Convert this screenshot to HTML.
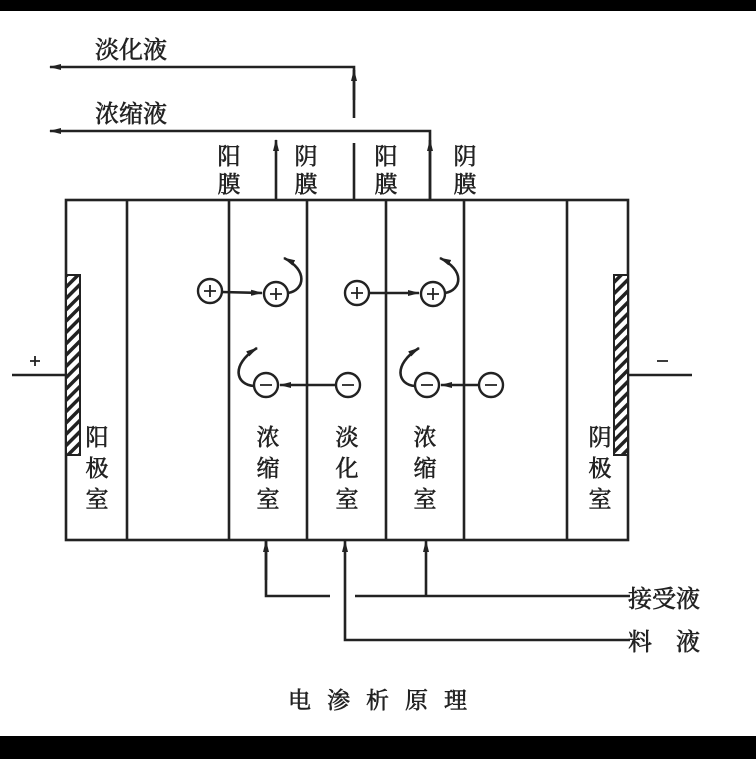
<!DOCTYPE html>
<html><head><meta charset="utf-8"><style>
body{margin:0;background:#fff;}
svg text{font-family:"Liberation Serif","Noto Serif CJK SC",serif;fill:#222;stroke:#222;stroke-width:0.6;}
</style></head><body>
<svg width="756" height="759" viewBox="0 0 756 759" xmlns="http://www.w3.org/2000/svg">
<defs>
<pattern id="h" width="8" height="8" patternUnits="userSpaceOnUse" patternTransform="rotate(-45)">
<rect width="8" height="8" fill="#fff"/><rect width="8" height="3.5" fill="#222"/></pattern>
<marker id="a" markerWidth="12" markerHeight="8" refX="11" refY="4" orient="auto" markerUnits="userSpaceOnUse"><path d="M0,1 L12,4 L0,7 Z" fill="#222"/></marker>
</defs>
<rect x="0" y="0" width="756" height="11" fill="#000"/>
<rect x="0" y="736" width="756" height="23" fill="#000"/>
<g stroke="#222" stroke-width="2.6" fill="none">
<rect x="66" y="200" width="562" height="340"/>
<line x1="127" y1="200" x2="127" y2="540"/>
<line x1="229" y1="200" x2="229" y2="540"/>
<line x1="307" y1="200" x2="307" y2="540"/>
<line x1="386" y1="200" x2="386" y2="540"/>
<line x1="464" y1="200" x2="464" y2="540"/>
<line x1="567" y1="200" x2="567" y2="540"/>
<line x1="12" y1="375" x2="66" y2="375"/>
<line x1="628" y1="375" x2="692" y2="375"/>
<polyline points="354,118 354,67 50,67" marker-end="url(#a)"/>
<line x1="354" y1="100" x2="354" y2="70" marker-end="url(#a)"/>
<polyline points="430,200 430,131 50,131" marker-end="url(#a)"/>
<line x1="430" y1="200" x2="430" y2="140" marker-end="url(#a)"/>
<line x1="276" y1="200" x2="276" y2="140" marker-end="url(#a)"/>
<line x1="354" y1="143" x2="354" y2="200"/>
<polyline points="266,540 266,596 330,596"/>
<line x1="355" y1="596" x2="630" y2="596"/>
<line x1="426" y1="596" x2="426" y2="541" marker-end="url(#a)"/>
<line x1="266" y1="580" x2="266" y2="541" marker-end="url(#a)"/>
<polyline points="630,640 345,640 345,541" marker-end="url(#a)"/>
<line x1="222" y1="292" x2="262" y2="293" marker-end="url(#a)"/>
<line x1="369" y1="293" x2="419" y2="293" marker-end="url(#a)"/>
<line x1="336" y1="385" x2="280" y2="385" marker-end="url(#a)"/>
<line x1="479" y1="385" x2="441" y2="385" marker-end="url(#a)"/>
<path d="M288,293 C305,290 308,270 284,258" marker-end="url(#a)"/>
<path d="M445,293 C462,290 465,270 440,258" marker-end="url(#a)"/>
<path d="M254,386 C236,385 230,365 257,348" marker-end="url(#a)"/>
<path d="M415,386 C398,385 392,365 419,348" marker-end="url(#a)"/>
</g>
<rect x="66" y="275" width="14" height="180" fill="url(#h)" stroke="#222" stroke-width="2"/>
<rect x="614" y="275" width="14" height="180" fill="url(#h)" stroke="#222" stroke-width="2"/>
<g stroke="#222" stroke-width="2.4" fill="#fff">
<circle cx="210" cy="291" r="12"/><circle cx="276" cy="294" r="12"/>
<circle cx="357" cy="293" r="12"/><circle cx="433" cy="294" r="12"/>
<circle cx="266" cy="385" r="12"/><circle cx="348" cy="385" r="12"/>
<circle cx="427" cy="385" r="12"/><circle cx="491" cy="385" r="12"/>
</g>
<g stroke="#222" stroke-width="1.8">
<path d="M204,291h12M210,285v12M270,294h12M276,288v12M351,293h12M357,287v12M427,294h12M433,288v12"/>
<path d="M260,385h12M342,385h12M421,385h12M485,385h12"/>
<path d="M30,361h10M35,356v10M657,361h11"/>
</g>
<g font-size="24">
<text x="95" y="58">淡化液</text>
<text x="95" y="122">浓缩液</text>
<text x="628" y="607">接受液</text>
<text x="628" y="650">料</text><text x="676" y="650">液</text>
</g>
<g font-size="23" text-anchor="middle">
<text x="229" y="164">阳</text><text x="229" y="192">膜</text>
<text x="306" y="164">阴</text><text x="306" y="192">膜</text>
<text x="386" y="164">阳</text><text x="386" y="192">膜</text>
<text x="465" y="164">阴</text><text x="465" y="192">膜</text>
<text x="97" y="445">阳</text><text x="97" y="476">极</text><text x="97" y="507">室</text>
<text x="268" y="445">浓</text><text x="268" y="476">缩</text><text x="268" y="507">室</text>
<text x="347" y="445">淡</text><text x="347" y="476">化</text><text x="347" y="507">室</text>
<text x="425" y="445">浓</text><text x="425" y="476">缩</text><text x="425" y="507">室</text>
<text x="600" y="445">阴</text><text x="600" y="476">极</text><text x="600" y="507">室</text>
</g>
<text x="288" y="708" font-size="23" letter-spacing="16">电渗析原理</text>
</svg>
</body></html>
